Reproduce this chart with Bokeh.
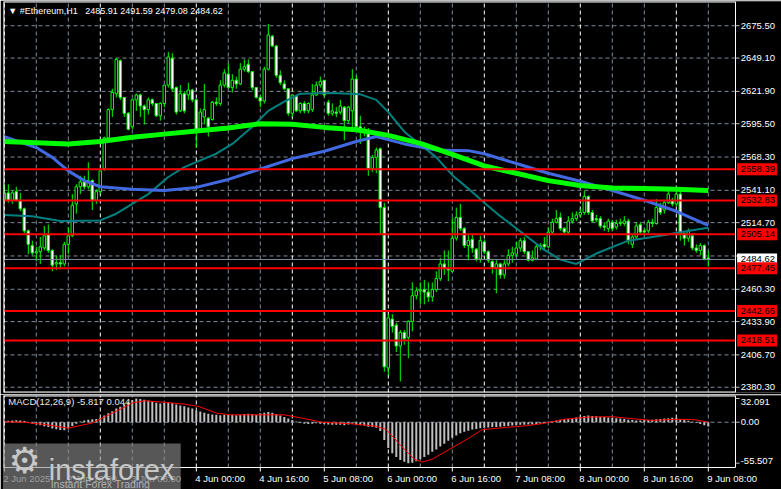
from bokeh.plotting import figure
from bokeh.layouts import column
from bokeh.models import Range1d, ColumnDataSource
from bokeh.core.properties import value
from bokeh.embed import file_html
from bokeh.resources import INLINE

# ---------------- data (H1 bars, 2 Jun 2025 00:00 -> 9 Jun 2025 08:00) ----------------
opens = [2533, 2539, 2533, 2540, 2533, 2526, 2508, 2496, 2490, 2491,
         2494, 2505, 2492, 2481, 2482, 2481, 2497, 2504, 2530, 2544,
         2548, 2544, 2549, 2533, 2540, 2559, 2584, 2607, 2620, 2647,
         2617, 2604, 2593, 2615, 2619, 2610, 2607, 2615, 2612, 2602,
         2612, 2627, 2649, 2625, 2606, 2620, 2619, 2623, 2615, 2591,
         2601, 2600, 2599, 2613, 2612, 2627, 2636, 2625, 2631, 2628,
         2640, 2644, 2638, 2625, 2617, 2614, 2640, 2667, 2659, 2635,
         2628, 2624, 2604, 2618, 2606, 2612, 2606, 2607, 2619, 2627,
         2631, 2613, 2604, 2605, 2605, 2609, 2598, 2606, 2632, 2593,
         2590, 2590, 2559, 2568, 2575, 2527, 2396, 2436, 2431, 2414,
         2425, 2421, 2434, 2455, 2459, 2460, 2458, 2454, 2460, 2469,
         2481, 2477, 2475, 2502, 2519, 2510, 2496, 2501, 2493, 2485,
         2499, 2491, 2483, 2478, 2481, 2472, 2481, 2488, 2489, 2494,
         2500, 2491, 2484, 2485, 2495, 2497, 2495, 2507, 2515, 2519,
         2510, 2507, 2516, 2518, 2521, 2523, 2536, 2523, 2518, 2518,
         2512, 2510, 2515, 2511, 2514, 2514, 2516, 2497, 2503, 2513,
         2508, 2508, 2515, 2514, 2527, 2525, 2531, 2533, 2530, 2538,
         2506, 2502, 2504, 2494, 2492, 2496, 2485.91]
highs = [2546, 2546, 2541, 2544, 2539, 2527, 2509, 2500, 2495, 2503,
         2512, 2513, 2493, 2488, 2488, 2499, 2511, 2538, 2546, 2553,
         2553, 2564, 2550, 2542, 2558, 2585, 2608, 2624, 2649, 2648,
         2617, 2605, 2616, 2620, 2620, 2611, 2617, 2616, 2612, 2613,
         2627, 2654, 2653, 2626, 2627, 2622, 2629, 2624, 2616, 2608,
         2628, 2601, 2614, 2617, 2631, 2640, 2645, 2636, 2634, 2645,
         2648, 2648, 2638, 2625, 2619, 2642, 2677, 2668, 2660, 2639,
         2631, 2624, 2619, 2619, 2613, 2614, 2613, 2628, 2630, 2634,
         2631, 2615, 2612, 2609, 2615, 2610, 2610, 2640, 2635, 2602,
         2593, 2592, 2570, 2576, 2576, 2531, 2440, 2440, 2433, 2427,
         2427, 2435, 2466, 2462, 2466, 2468, 2466, 2466, 2475, 2486,
         2492, 2492, 2519, 2527, 2530, 2511, 2505, 2505, 2494, 2504,
         2501, 2492, 2484, 2484, 2482, 2484, 2493, 2495, 2499, 2502,
         2503, 2491, 2492, 2497, 2498, 2503, 2511, 2518, 2525, 2523,
         2511, 2520, 2523, 2524, 2526, 2541, 2537, 2525, 2521, 2520,
         2515, 2518, 2517, 2517, 2518, 2520, 2518, 2505, 2515, 2515,
         2510, 2517, 2518, 2534, 2531, 2533, 2541, 2535, 2541, 2541,
         2506, 2510, 2506, 2497, 2498, 2497, 2491.59]
lows = [2531, 2531, 2530, 2532, 2524, 2506, 2489, 2488, 2483, 2481,
        2492, 2490, 2475, 2476, 2477, 2479, 2489, 2503, 2522, 2538,
        2542, 2542, 2525, 2530, 2538, 2557, 2583, 2601, 2617, 2615,
        2601, 2590, 2591, 2606, 2601, 2595, 2603, 2610, 2601, 2598,
        2609, 2625, 2622, 2603, 2605, 2604, 2615, 2613, 2576, 2590,
        2595, 2585, 2598, 2610, 2610, 2625, 2624, 2621, 2624, 2627,
        2638, 2637, 2623, 2616, 2609, 2612, 2639, 2658, 2633, 2627,
        2623, 2602, 2601, 2605, 2604, 2604, 2604, 2605, 2618, 2625,
        2617, 2602, 2602, 2601, 2603, 2582, 2596, 2590, 2590, 2579,
        2585, 2553, 2556, 2555, 2506, 2393, 2390, 2425, 2409, 2385,
        2415, 2404, 2426, 2452, 2448, 2448, 2450, 2450, 2458, 2467,
        2472, 2467, 2474, 2500, 2508, 2494, 2484, 2490, 2483, 2482,
        2489, 2482, 2473, 2457, 2469, 2469, 2479, 2482, 2487, 2491,
        2489, 2483, 2483, 2484, 2492, 2493, 2494, 2506, 2514, 2508,
        2506, 2505, 2514, 2516, 2519, 2521, 2521, 2515, 2515, 2510,
        2508, 2507, 2508, 2509, 2512, 2512, 2497, 2494, 2501, 2505,
        2504, 2506, 2511, 2513, 2521, 2522, 2530, 2528, 2528, 2500,
        2496, 2499, 2492, 2490, 2488, 2484, 2479.08]
closes = [2539, 2533, 2539, 2533, 2526, 2508, 2497, 2490, 2491, 2495,
          2504, 2492, 2480, 2482, 2481, 2497, 2504, 2529, 2544, 2548,
          2544, 2549, 2533, 2540, 2557, 2584, 2607, 2621, 2648, 2617,
          2604, 2591, 2615, 2619, 2610, 2607, 2615, 2612, 2602, 2612,
          2627, 2650, 2624, 2605, 2620, 2606, 2623, 2615, 2591, 2605,
          2607, 2593, 2613, 2612, 2627, 2637, 2625, 2631, 2628, 2640,
          2642, 2638, 2625, 2617, 2614, 2640, 2668, 2659, 2635, 2629,
          2624, 2604, 2619, 2606, 2612, 2606, 2612, 2619, 2627, 2630,
          2619, 2604, 2606, 2604, 2610, 2598, 2609, 2632, 2593, 2590,
          2589, 2559, 2568, 2574, 2527, 2397, 2437, 2430, 2414, 2425,
          2420, 2434, 2455, 2459, 2460, 2458, 2454, 2460, 2469, 2481,
          2477, 2476, 2502, 2519, 2510, 2496, 2500, 2494, 2485, 2500,
          2491, 2484, 2478, 2481, 2472, 2481, 2488, 2490, 2494, 2500,
          2491, 2484, 2486, 2495, 2496, 2495, 2507, 2515, 2518, 2510,
          2507, 2516, 2518, 2521, 2523, 2536, 2523, 2516, 2517, 2512,
          2511, 2516, 2510, 2514, 2515, 2516, 2500, 2503, 2512, 2507,
          2507, 2515, 2514, 2527, 2523, 2531, 2538, 2530, 2538, 2506,
          2502, 2508, 2494, 2492, 2496, 2485, 2484.62]

# moving averages (bar index, price)
ma_green_x = [0, 8, 16, 24, 32, 40, 48, 56, 64, 72, 80, 88, 96, 104, 112,
              120, 128, 136, 144, 152, 160, 168, 176]
ma_green_y = [2581, 2580, 2579, 2581, 2584.5, 2587, 2589.5, 2592, 2595.5, 2595,
              2592.5, 2590.5, 2586, 2579.5, 2570.5, 2561, 2555, 2549, 2545,
              2543, 2542.5, 2542, 2541]
ma_blue_x = [0, 8, 12, 16, 20, 24, 32, 40, 48, 56, 64, 72, 80, 88, 93, 100,
             108, 116, 120, 128, 136, 144, 152, 160, 168, 176]
ma_blue_y = [2585, 2576, 2568, 2557, 2549, 2544, 2542, 2541, 2543.5, 2550,
             2558.5, 2567, 2573, 2581, 2585, 2579, 2574, 2573.5, 2571, 2563,
             2555, 2548.5, 2541, 2533, 2524, 2512.5]
ma_teal_x = [0, 7, 14, 24, 28, 32, 36, 41, 45, 49, 53, 57, 62, 66, 70, 74, 82,
             89, 93, 96, 100, 104, 108, 112, 116, 120, 124, 130, 135, 139, 143,
             148, 156, 164, 172, 176]
ma_teal_y = [2521, 2520, 2516, 2516.5, 2522, 2530, 2538, 2552, 2560, 2565.5,
             2571, 2579, 2593, 2606, 2613.5, 2620, 2620.5, 2619.5, 2615, 2605,
             2589, 2578.5, 2568, 2553.5, 2542.5, 2531, 2520, 2505, 2492.5,
             2484.5, 2481, 2489.5, 2500, 2504, 2508.5, 2510.5]

red_levels = [2558.39, 2532.83, 2505.14, 2477.45, 2442.65, 2418.51]
last_price = 2484.62
price_ticks = [2380.3, 2406.7, 2433.9, 2460.3, 2487.5, 2514.7, 2541.1,
               2568.3, 2595.5, 2621.9, 2649.1, 2675.5]

macd_hist = [1.5, 2.0, 2.5, 2.8, 2.5, 1.5, -0.8, -2.0, -3.0, -4.0,
             -5.5, -6.5, -8.5, -9.5, -10.5, -10.8, -8.0, -5.0, -2.0, 1.0,
             2.5, 3.5, 4.0, 4.5, 6.0, 9.0, 12.0, 15.0, 18.5, 21.0,
             24.5, 27.5, 30.0, 32.0, 31.5, 30.5, 29.5, 28.0, 26.5, 25.5,
             26.0, 27.0, 26.0, 24.0, 22.5, 21.5, 20.0, 18.5, 16.0, 14.5,
             13.0, 11.5, 10.5, 10.0, 9.5, 10.0, 10.5, 10.0, 9.5, 10.0,
             11.0, 11.5, 11.0, 10.0, 12.0, 13.0, 14.0, 13.0, 11.0, 9.0,
             7.0, 5.0, 3.0, 1.0, -1.0, -2.0, -2.5, -2.0, -1.5, -2.0,
             -2.5, -3.0, -3.5, -3.5, -3.5, -4.0, -3.0, -2.0, -3.0, -4.0,
             -4.5, -6.0, -6.5, -7.5, -12.0, -24.0, -35.0, -42.0, -47.0, -51.0,
             -53.5, -55.507, -55.0, -53.0, -50.0, -47.0, -44.0, -40.0, -37.0, -33.0,
             -29.0, -25.0, -21.0, -18.0, -15.0, -13.0, -11.5, -10.0, -9.0, -8.0,
             -7.5, -7.0, -6.5, -6.5, -6.0, -5.5, -5.0, -4.5, -4.0, -3.5,
             -3.5, -3.0, -3.0, -2.5, -2.0, -1.0, 0.5, 1.5, 2.5, 3.5,
             4.0, 4.5, 5.5, 6.5, 7.5, 8.5, 9.0, 8.5, 8.0, 7.5,
             7.0, 6.5, 6.0, 5.5, 5.0, 4.5, 3.5, 3.0, 2.5, 2.5,
             3.0, 3.0, 3.5, 4.0, 4.5, 5.0, 5.5, 6.0, 6.0, 4.5,
             3.0, 2.0, 0.5, -1.0, -2.5, -4.0, -5.817]
macd_sig_x = [0, 5, 10, 16, 22, 28, 32, 35, 39, 45, 48.5, 53, 56.5, 63.5, 70,
              74, 79.5, 86.5, 93, 95.5, 99, 102.5, 104.5, 107, 111.5, 116,
              119.5, 125.5, 131, 135.5, 140, 146, 152, 156.5, 162, 168, 172.5, 176]
macd_sig_y = [0.5, 0.0, -3.0, -8.0, -1.0, 15.0, 26.0, 29.0, 27.5, 24.5, 21.5,
              12.5, 10.0, 10.0, 10.0, 6.0, 0.0, -2.0, -5.5, -10.0, -31.0, -50.0,
              -54.0, -50.0, -36.0, -22.0, -10.0, -7.0, -4.5, -1.0, 4.0, 7.0, 7.5,
              5.0, 2.5, 4.0, 3.5, 0.044]
macd_ticks = [32.091, 0.0, -55.507]
macd_tick_labels = ["32.091", "0.00", "-55.507"]

time_bars = [0, 16, 32, 48, 64, 80, 96, 112, 128, 144, 160, 176]
time_labels = ["2 Jun 2025", "2 Jun 16:00", "3 Jun 08:00", "4 Jun 00:00",
               "4 Jun 16:00", "5 Jun 08:00", "6 Jun 00:00", "6 Jun 16:00",
               "7 Jun 08:00", "8 Jun 00:00", "8 Jun 16:00", "9 Jun 08:00"]

title_text = "\u25bc #Ethereum,H1 \u00a0 2485.91 2491.59 2479.08 2484.62"
macd_text = "MACD(12,26,9) -5.817 0.044"

# ---------------- styling / geometry ----------------
FONT = "Liberation Sans"
FS = "9.5px"
LIME = "#00FF00"
GRIDC = "#7d8a99"
X0, X1, XR = -0.2, 182.8, 194.3        # chart left, chart right, canvas right (bars)
PY0, PY1 = 2376.0, 2695.3
MY0, MY1, MPB = -91.1, 36.2, -61.3
FRAME_W, MAIN_H, MACD_H = 778, 391, 94
UPP = (PY1 - PY0) / MAIN_H              # price units per pixel
UPM = (MY1 - MY0) / MACD_H              # macd units per pixel
LBL_X = X1 + 1.3
BOX_X = X1 + 5.4

n = len(closes)
bars = list(range(n))
gray_x = [b for b in range(8, n, 8) if b % 24 != 0]
white_x = [b for b in range(0, n, 24)]

# ---------------- main price panel ----------------
p = figure(frame_width=FRAME_W, frame_height=MAIN_H, x_range=Range1d(X0, XR),
           y_range=Range1d(PY0, PY1), output_backend="svg", toolbar_location=None,
           x_axis_location=None, y_axis_location=None,
           min_border_left=3, min_border_right=0, min_border_top=1, min_border_bottom=2,
           background_fill_color="black", border_fill_color="black",
           outline_line_color=None)
p.grid.visible = False

# grid
p.segment(x0=[X0] * len(price_ticks), y0=price_ticks, x1=[X1] * len(price_ticks),
          y1=price_ticks, line_color=GRIDC, line_dash="4 3", line_width=1)
p.segment(x0=gray_x, y0=[PY0] * len(gray_x), x1=gray_x, y1=[PY1] * len(gray_x),
          line_color=GRIDC, line_dash="4 3", line_width=1)
p.segment(x0=white_x, y0=[PY0] * len(white_x), x1=white_x, y1=[PY1] * len(white_x),
          line_color="white", line_dash="4 3", line_width=1)

# candles
src = ColumnDataSource(dict(
    x=bars, h=highs, l=lows,
    top=[max(o, c) for o, c in zip(opens, closes)],
    bot=[min(o, c) for o, c in zip(opens, closes)],
    fill=["black" if c >= o else "white" for o, c in zip(opens, closes)]))
p.segment(x0="x", y0="h", x1="x", y1="l", source=src, line_color=LIME, line_width=1)
p.vbar(x="x", width=0.62, top="top", bottom="bot", source=src,
       fill_color="fill", line_color=LIME, line_width=1)

# moving averages
p.line(ma_teal_x, ma_teal_y, line_color="#008080", line_width=2)
p.line(ma_blue_x, ma_blue_y, line_color="#4169E1", line_width=3)
p.line(ma_green_x, ma_green_y, line_color=LIME, line_width=5)

# horizontal levels
p.segment(x0=[X0] * len(red_levels), y0=red_levels, x1=[X1] * len(red_levels),
          y1=red_levels, line_color="#FF0000", line_width=2)
p.segment(x0=[X0], y0=[last_price], x1=[X1], y1=[last_price],
          line_color="#778899", line_width=1)

# frame of the price panel
p.segment(x0=[X0, X1, X0, X0], y0=[PY0, PY0, PY0, PY1],
          x1=[X0, X1, X1, X1], y1=[PY1, PY1, PY0, PY1],
          line_color="white", line_width=[2, 1, 2, 2])

# price scale (right)
shown = [t for t in price_ticks if abs(t - last_price) > 6]
p.segment(x0=[X1] * len(price_ticks), y0=price_ticks, x1=[X1 + 1.0] * len(price_ticks),
          y1=price_ticks, line_color="#c0c0c0", line_width=1)
p.text(x=[LBL_X] * len(shown), y=shown, text=[f"{t:.2f}" for t in shown],
       text_font=value(FONT), text_font_size=FS, text_color="white",
       text_align="left", text_baseline="middle")
p.rect(x=[BOX_X], y=[last_price], width=40, height=12, width_units="screen",
       height_units="screen", fill_color="white", line_color=None)
p.text(x=[LBL_X], y=[last_price], text=[f"{last_price:.2f}"],
       text_font=value(FONT), text_font_size=FS, text_color="black",
       text_align="left", text_baseline="middle")
p.rect(x=[BOX_X] * len(red_levels), y=red_levels, width=40, height=12,
       width_units="screen", height_units="screen", fill_color="#FF0000",
       line_color=None)
p.text(x=[LBL_X] * len(red_levels), y=red_levels, text=[f"{v:.2f}" for v in red_levels],
       text_font=value(FONT), text_font_size=FS, text_color="black",
       text_align="left", text_baseline="middle")

# title
p.text(x=[X0 + 1.2], y=[PY1 - 9 * UPP], text=[title_text], text_font=value(FONT),
       text_font_size="9px", text_color="white", text_align="left",
       text_baseline="middle")

# ---------------- MACD panel ----------------
m = figure(frame_width=FRAME_W, frame_height=MACD_H, x_range=p.x_range,
           y_range=Range1d(MY0, MY1), output_backend="svg", toolbar_location=None,
           x_axis_location=None, y_axis_location=None,
           min_border_left=3, min_border_right=0, min_border_top=1, min_border_bottom=0,
           background_fill_color="black", border_fill_color="black",
           outline_line_color=None)
m.grid.visible = False

m.segment(x0=gray_x, y0=[MPB] * len(gray_x), x1=gray_x, y1=[MY1] * len(gray_x),
          line_color=GRIDC, line_dash="4 3", line_width=1)
m.segment(x0=white_x, y0=[MPB] * len(white_x), x1=white_x, y1=[MY1] * len(white_x),
          line_color="white", line_dash="4 3", line_width=1)
m.segment(x0=[X0], y0=[0], x1=[X1], y1=[0], line_color=GRIDC, line_dash="4 3",
          line_width=1)

m.vbar(x=bars, top=macd_hist, bottom=0, width=0.5, fill_color="#C0C0C0",
       line_color=None)
m.line(macd_sig_x, macd_sig_y, line_color="#FF0000", line_width=1)

# panel frame
m.segment(x0=[X0, X0, X0, X1], y0=[MY1, MPB, MPB, MPB],
          x1=[X1, X1, X0, X1], y1=[MY1, MPB, MY1, MY1],
          line_color="white", line_width=[2, 1, 2, 1])

# macd scale
tick_y = [min(max(v, MPB + 6 * UPM), MY1 - 6 * UPM) for v in macd_ticks]
m.segment(x0=[X1] * 3, y0=macd_ticks, x1=[X1 + 1.0] * 3, y1=macd_ticks,
          line_color="#c0c0c0", line_width=1)
m.text(x=[LBL_X] * 3, y=tick_y, text=macd_tick_labels, text_font=value(FONT),
       text_font_size=FS, text_color="white", text_align="left",
       text_baseline="middle")

# time scale
m.segment(x0=time_bars, y0=[MPB] * len(time_bars), x1=time_bars,
          y1=[MPB - 4 * UPM] * len(time_bars), line_color="white", line_width=1)
m.text(x=time_bars, y=[MPB - 11 * UPM] * len(time_bars), text=time_labels,
       text_font=value(FONT), text_font_size=FS,
       text_color=["#bdbdbd" if b < 44 else "white" for b in time_bars],
       text_align="left", text_baseline="middle", x_offset=-1)

m.text(x=[X0 + 1.2], y=[MY1 - 6 * UPM], text=[macd_text], text_font=value(FONT),
       text_font_size=FS, text_color="#e8e8e8", text_align="left",
       text_baseline="middle")

# watermark
m.quad(left=[X0 - 1], right=[44.1], bottom=[MY0 - 1], top=[MPB + 24 * UPM],
       fill_color="#8c8c8c", fill_alpha=0.62, line_color=None)
m.text(x=[5.1], y=[MPB + 7 * UPM], text=["\u2699"], text_font=value("DejaVu Sans"),
       text_font_size="36px", text_color="#c8c8c8", text_align="center",
       text_baseline="middle")
m.text(x=[11.1], y=[MPB - 3 * UPM], text=["instaforex"], text_font=value(FONT),
       text_font_size="29px", text_color="#c8c8c8", text_align="left",
       text_baseline="alphabetic")
m.text(x=[11.6], y=[MPB - 17 * UPM], text=["Instant Forex Trading"],
       text_font=value(FONT), text_font_size="10.5px", text_color="#b4b4b4",
       text_align="left", text_baseline="alphabetic")

layout = column(p, m, spacing=0)
open("out.html", "w").write(file_html(layout, INLINE))
